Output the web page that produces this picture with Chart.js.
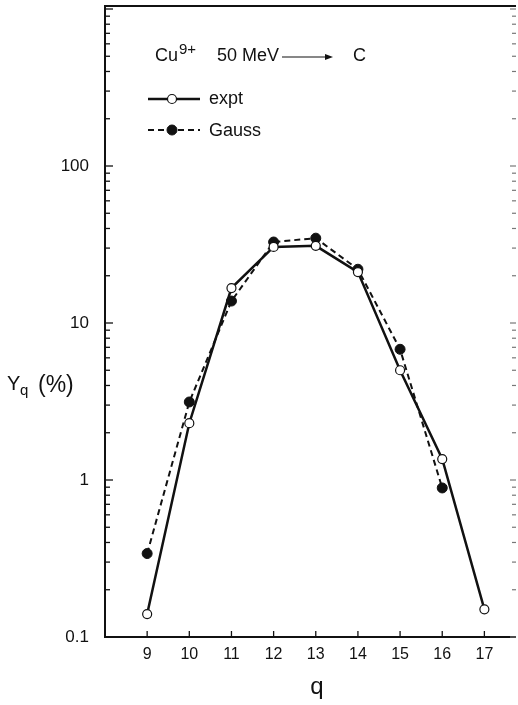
<!DOCTYPE html>
<html>
<head>
<meta charset="utf-8">
<script src="https://cdn.jsdelivr.net/npm/chart.js@4"></script>
<style>
  html, body { margin: 0; padding: 0; background: #fff; }
  #wrap { width: 518px; height: 705px; }
</style>
</head>
<body>
<div id="wrap"><canvas id="yield" width="518" height="705"></canvas></div>
<script>
// charge states and yields (%)
const chargeExpt = [9, 10, 11, 12, 13, 14, 15, 16, 17];
const yieldExpt = [0.14, 2.3, 16.7, 30.5, 31, 21.1, 5.0, 1.36, 0.15];
const chargeGauss = [9, 10, 11, 12, 13, 14, 15, 16];
const yieldGauss = [0.34, 3.14, 13.8, 32.8, 34.7, 22, 6.8, 0.89];
const xTickLabels = [9, 10, 11, 12, 13, 14, 15, 16, 17];
const yTickLabels = [0.1, 1, 10, 100];
const yDecades = [0.1, 1, 10, 100, 1000];

const FONT = "'Liberation Sans', Arial, Helvetica, sans-serif";

const toPoints = (xs, ys) => xs.map((x, i) => ({ x: x, y: ys[i] }));

// frame, inward ticks, annotation and legend
const framePlugin = {
  id: "frame",
  afterDraw(chart) {
    const ctx = chart.ctx;
    const { left, right, top, bottom } = chart.chartArea;
    const xs = chart.scales.x;
    const ys = chart.scales.y;
    ctx.save();
    ctx.strokeStyle = "#111";
    ctx.lineCap = "butt";

    // left, bottom, top borders
    ctx.lineWidth = 2;
    ctx.beginPath();
    ctx.moveTo(right, top);
    ctx.lineTo(left, top);
    ctx.lineTo(left, bottom);
    ctx.lineTo(right, bottom);
    ctx.stroke();

    // y ticks: decades plus 2..9 minors, left solid and right faint
    yDecades.forEach((dec) => {
      for (let m = 1; m < 10; m++) {
        const v = dec * m;
        const py = ys.getPixelForValue(v);
        if (py < top + 1 || py > bottom + 0.5) continue;
        const major = m === 1;
        ctx.lineWidth = 1.3;
        ctx.strokeStyle = "#111";
        ctx.beginPath();
        ctx.moveTo(left, py);
        ctx.lineTo(left + (major ? 8 : 5), py);
        ctx.stroke();
        ctx.strokeStyle = "#777";
        ctx.lineWidth = 1.2;
        ctx.beginPath();
        ctx.moveTo(right, py);
        ctx.lineTo(right - (major ? 6 : 4), py);
        ctx.stroke();
      }
    });

    // x ticks pointing up
    ctx.strokeStyle = "#111";
    ctx.lineWidth = 1.3;
    xTickLabels.forEach((q) => {
      const px = xs.getPixelForValue(q);
      ctx.beginPath();
      ctx.moveTo(px, bottom);
      ctx.lineTo(px, bottom - 6);
      ctx.stroke();
    });

    // reaction label
    ctx.fillStyle = "#111";
    ctx.textBaseline = "alphabetic";
    ctx.textAlign = "left";
    ctx.font = "18px " + FONT;
    ctx.fillText("Cu", 155, 61);
    ctx.font = "15px " + FONT;
    ctx.fillText("9+", 179, 54);
    ctx.font = "18px " + FONT;
    ctx.fillText("50 MeV", 217, 61);
    ctx.fillText("C", 353, 61);
    ctx.lineWidth = 1.2;
    ctx.beginPath();
    ctx.moveTo(282, 57);
    ctx.lineTo(327, 57);
    ctx.stroke();
    ctx.beginPath();
    ctx.moveTo(333, 57);
    ctx.lineTo(325, 54);
    ctx.lineTo(325, 60);
    ctx.closePath();
    ctx.fill();

    // legend
    const ds = chart.data.datasets;
    const rows = [[ds[0], 99, "expt", 104], [ds[1], 130, "Gauss", 136]];
    rows.forEach(([d, ly, label, base]) => {
      ctx.strokeStyle = "#111";
      ctx.lineWidth = d.borderWidth;
      ctx.setLineDash(d.borderDash || []);
      ctx.beginPath();
      ctx.moveTo(148, ly);
      ctx.lineTo(200, ly);
      ctx.stroke();
      ctx.setLineDash([]);
      ctx.beginPath();
      ctx.arc(172, ly, d.pointRadius, 0, Math.PI * 2);
      ctx.fillStyle = d.pointBackgroundColor;
      ctx.fill();
      ctx.lineWidth = d.pointBorderWidth;
      ctx.stroke();
      ctx.fillStyle = "#111";
      ctx.font = "18px " + FONT;
      ctx.fillText(label, 209, base);
    });

    // axis titles
    ctx.font = "20px " + FONT;
    ctx.fillText("Y", 7, 390);
    ctx.font = "15px " + FONT;
    ctx.fillText("q", 20, 395);
    ctx.font = "23px " + FONT;
    ctx.fillText("(%)", 38, 392);
    ctx.font = "24px " + FONT;
    ctx.textAlign = "center";
    ctx.fillText("q", 317, 694);
    ctx.restore();
  },
};

new Chart(document.getElementById("yield"), {
  type: "line",
  data: {
    datasets: [
      {
        label: "expt",
        data: toPoints(chargeExpt, yieldExpt),
        borderColor: "#111",
        borderWidth: 2.5,
        pointRadius: 4.5,
        pointBackgroundColor: "#fff",
        pointBorderColor: "#111",
        pointBorderWidth: 1.2,
        tension: 0,
      },
      {
        label: "Gauss",
        data: toPoints(chargeGauss, yieldGauss),
        borderColor: "#111",
        borderWidth: 2,
        borderDash: [6, 4],
        pointRadius: 5,
        pointBackgroundColor: "#111",
        pointBorderColor: "#111",
        pointBorderWidth: 1,
        tension: 0,
      },
    ],
  },
  options: {
    responsive: false,
    animation: false,
    devicePixelRatio: 1,
    layout: { autoPadding: false, padding: { top: 6, right: 2, left: 0, bottom: 0 } },
    plugins: {
      legend: { display: false },
      tooltip: { enabled: false },
    },
    scales: {
      x: {
        type: "linear",
        min: 8,
        max: 17.75,
        grid: { display: false },
        border: { display: false },
        afterBuildTicks: (scale) => {
          scale.ticks = xTickLabels.map((v) => ({ value: v }));
        },
        ticks: {
          autoSkip: false,
          maxRotation: 0,
          padding: 0,
          color: "#111",
          font: { family: FONT, size: 16 },
        },
        afterFit: (scale) => {
          scale.height = 68;
          scale.paddingLeft = 0;
          scale.paddingRight = 0;
        },
      },
      y: {
        type: "logarithmic",
        min: 0.1,
        max: 1045,
        grid: { display: false },
        border: { display: false },
        afterBuildTicks: (scale) => {
          scale.ticks = yTickLabels.map((v) => ({ value: v }));
        },
        ticks: {
          autoSkip: false,
          padding: 8,
          color: "#111",
          font: { family: FONT, size: 17 },
          callback: (v) => String(v),
        },
        afterFit: (scale) => {
          scale.width = 105;
          scale.paddingTop = 0;
          scale.paddingBottom = 0;
        },
      },
    },
  },
  plugins: [framePlugin],
});
</script>
</body>
</html>
